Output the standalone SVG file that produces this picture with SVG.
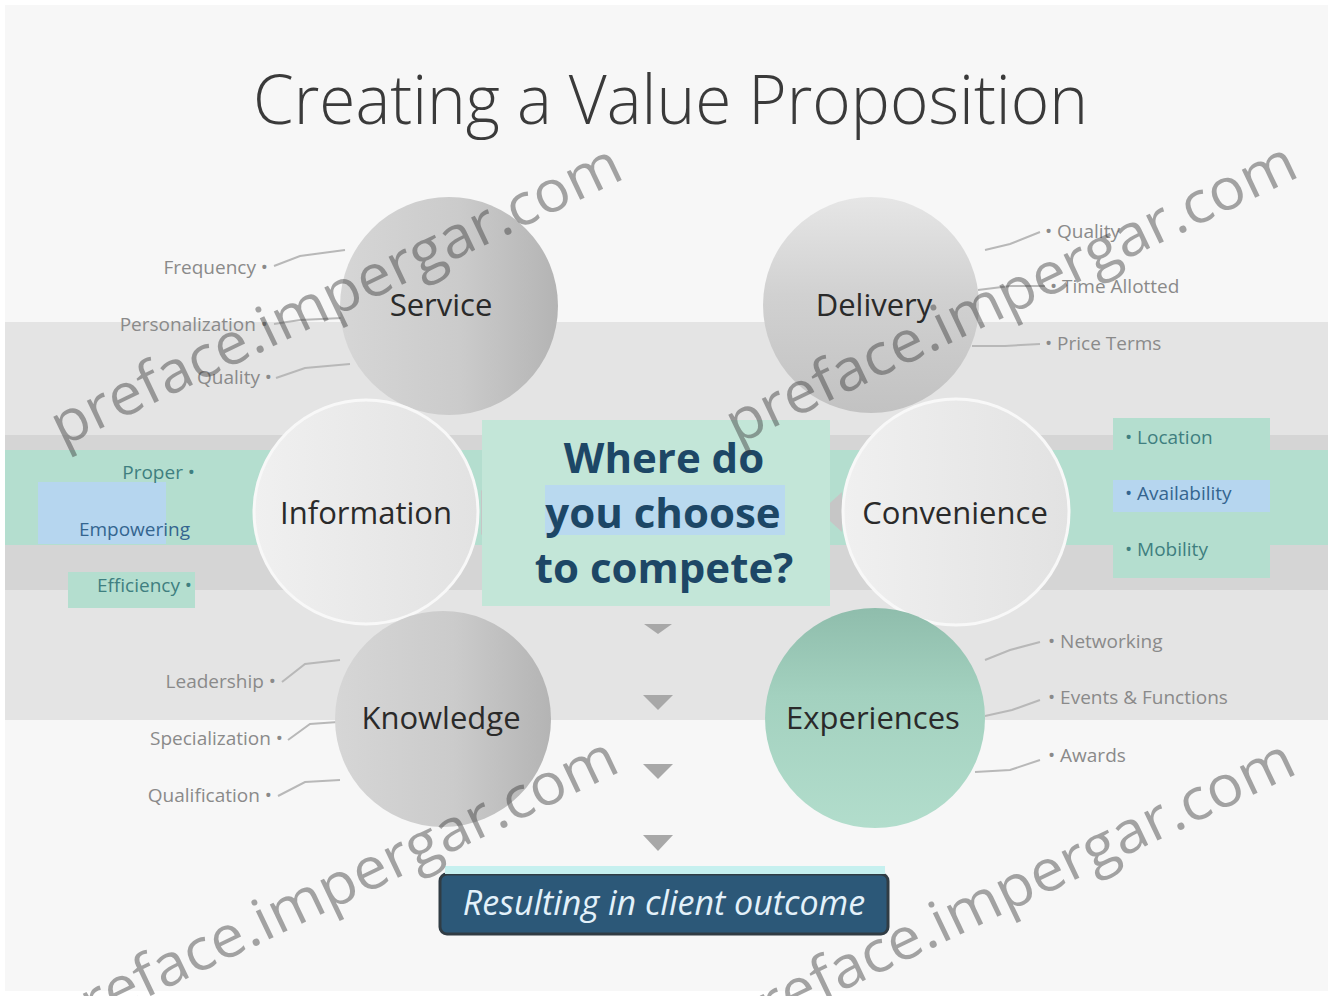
<svg xmlns="http://www.w3.org/2000/svg" width="1333" height="996" viewBox="0 0 1333 996">
<defs>
<style>
.title{font-family:"Open Sans","Liberation Sans",sans-serif;font-weight:300;font-size:68px;fill:#3a3a3a}
.node{font-family:"Open Sans","Liberation Sans",sans-serif;font-size:31px;fill:#2a2a2a;text-anchor:middle}
.lbl{font-family:"Open Sans","Liberation Sans",sans-serif;font-size:19px;fill:#8a8a8a}
.lblc{font-family:"Open Sans","Liberation Sans",sans-serif;font-size:19px;fill:#3f7f80}
.lblb{font-family:"Open Sans","Liberation Sans",sans-serif;font-size:19px;fill:#34658f}
.q{font-family:"Open Sans","Liberation Sans",sans-serif;font-weight:700;font-size:42px;fill:#1d4766;text-anchor:middle}
.out{font-family:"Open Sans","Liberation Sans",sans-serif;font-style:italic;font-size:34px;fill:#e3f1fa;text-anchor:middle}
.wm{font-family:"Open Sans","Liberation Sans",sans-serif;font-size:58px;fill:#3c3c3c;opacity:0.45}
.con{stroke:#b8b8b8;stroke-width:2;fill:none}
.chev{fill:#a8a8a8}
</style>
<linearGradient id="gSvc" x1="0" y1="0" x2="1" y2="0"><stop offset="0" stop-color="#d6d6d6"/><stop offset="0.55" stop-color="#cbcbcb"/><stop offset="1" stop-color="#b4b4b4"/></linearGradient>
<linearGradient id="gDel" x1="0" y1="0" x2="0" y2="1"><stop offset="0" stop-color="#e6e6e6"/><stop offset="0.45" stop-color="#d1d1d1"/><stop offset="1" stop-color="#c2c2c2"/></linearGradient>
<linearGradient id="gInf" x1="0" y1="0" x2="1" y2="0"><stop offset="0" stop-color="#f0f0f0"/><stop offset="1" stop-color="#e2e2e2"/></linearGradient>
<linearGradient id="gExp" x1="0" y1="0" x2="0" y2="1"><stop offset="0" stop-color="#8fbdac"/><stop offset="0.4" stop-color="#a3d1bf"/><stop offset="1" stop-color="#b2ddcc"/></linearGradient>
</defs>

<rect x="0" y="0" width="1333" height="996" fill="#ffffff"/>
<rect x="5" y="5" width="1323" height="986" fill="#f7f7f7"/>

<!-- bands -->
<rect x="5" y="322" width="1323" height="398" fill="#e4e4e4"/>
<rect x="5" y="435" width="1323" height="155" fill="#d5d5d5"/>
<rect x="5" y="450" width="1323" height="95" fill="#b4decf"/>
<rect x="38" y="482" width="128" height="62" fill="#b6d6ef"/>
<rect x="68" y="572" width="127" height="36" fill="#b4decf"/>
<rect x="1113" y="418" width="157" height="160" fill="#b4decf"/>
<rect x="1113" y="480" width="157" height="32" fill="#b6d6ef"/>

<!-- title -->
<text class="title" x="253" y="124" textLength="835" lengthAdjust="spacingAndGlyphs">Creating a Value Proposition</text>

<!-- connectors -->
<g id="connectors">
<polyline class="con" points="274,266 300,256 345,250"/>
<polyline class="con" points="274,324 300,320 342,318"/>
<polyline class="con" points="276,378 305,368 350,364"/>
<polyline class="con" points="282,682 305,664 340,660"/>
<polyline class="con" points="288,740 310,724 338,722"/>
<polyline class="con" points="278,796 305,782 340,780"/>
<polyline class="con" points="985,250 1010,244 1040,232"/>
<polyline class="con" points="978,290 1010,286 1045,286"/>
<polyline class="con" points="972,346 1005,346 1040,344"/>
<polyline class="con" points="985,660 1010,650 1040,642"/>
<polyline class="con" points="985,716 1012,710 1040,700"/>
<polyline class="con" points="975,772 1010,770 1040,760"/>
<polygon fill="#c6c6c6" points="481,490 507,512 481,535"/>
<polygon fill="#c6c6c6" points="842,492 820,512 842,532"/>
<polygon class="chev" points="644,624 672,624 658,634"/>
<polygon class="chev" points="643,695 673,695 658,710"/>
<polygon class="chev" points="643,764 673,764 658,779"/>
<polygon class="chev" points="643,835 673,835 658,851"/>
</g>

<!-- nodes -->
<g id="service"><circle cx="449" cy="306" r="109" fill="url(#gSvc)"/><text class="node" x="441" y="316">Service</text></g>
<g id="delivery"><circle cx="871" cy="305" r="108" fill="url(#gDel)"/><text class="node" x="874" y="316">Delivery</text></g>
<g id="information"><circle cx="366" cy="512" r="112" fill="url(#gInf)" stroke="#f8f8f8" stroke-width="3"/><text class="node" x="366" y="524">Information</text></g>
<g id="convenience"><circle cx="956" cy="512" r="113" fill="url(#gInf)" stroke="#f8f8f8" stroke-width="3"/><text class="node" x="955" y="524">Convenience</text></g>
<g id="knowledge"><circle cx="443" cy="719" r="108" fill="url(#gSvc)"/><text class="node" x="441" y="729">Knowledge</text></g>
<g id="experiences"><circle cx="875" cy="718" r="110" fill="url(#gExp)"/><text class="node" x="873" y="729">Experiences</text></g>

<g id="center">
<rect x="482" y="420" width="348" height="186" fill="#c3e6d8"/>
<rect x="545" y="485" width="240" height="50" fill="#b9d9ef"/>
<text class="q" x="664" y="473">Where do</text>
<text class="q" x="663" y="528">you choose</text>
<text class="q" x="664" y="583">to compete?</text>
</g>

<g id="outcome">
<rect x="440" y="874" width="448" height="60" rx="7" fill="#2c5878" stroke="#303c44" stroke-width="3"/>
<rect x="445" y="866" width="440" height="8" fill="#c6f0ef"/>
<text class="out" x="664" y="915">Resulting in client outcome</text>
</g>

<!-- labels -->
<g id="labels-left">
<text class="lbl" x="268" y="274" text-anchor="end">Frequency •</text>
<text class="lbl" x="268" y="331" text-anchor="end">Personalization •</text>
<text class="lbl" x="272" y="384" text-anchor="end">Quality •</text>
<text class="lblc" x="195" y="479" text-anchor="end">Proper •</text>
<text class="lblb" x="190" y="536" text-anchor="end">Empowering</text>
<text class="lblc" x="192" y="592" text-anchor="end">Efficiency •</text>
<text class="lbl" x="276" y="688" text-anchor="end">Leadership •</text>
<text class="lbl" x="283" y="745" text-anchor="end">Specialization •</text>
<text class="lbl" x="272" y="802" text-anchor="end">Qualification •</text>
</g>
<g id="labels-right">
<text class="lbl" x="1045" y="238">• Quality</text>
<text class="lbl" x="1050" y="293">• Time Allotted</text>
<text class="lbl" x="1045" y="350">• Price Terms</text>
<text class="lblc" x="1125" y="444">• Location</text>
<text class="lblb" x="1125" y="500">• Availability</text>
<text class="lblc" x="1125" y="556">• Mobility</text>
<text class="lbl" x="1048" y="648">• Networking</text>
<text class="lbl" x="1048" y="704">• Events &amp; Functions</text>
<text class="lbl" x="1048" y="762">• Awards</text>
</g>

<!-- watermarks (on top) -->
<g id="watermarks">
<text class="wm" x="62" y="447" transform="rotate(-25.5 62 447)" textLength="625" lengthAdjust="spacingAndGlyphs">preface.impergar.com</text>
<text class="wm" x="737" y="445" transform="rotate(-25.5 737 445)" textLength="625" lengthAdjust="spacingAndGlyphs">preface.impergar.com</text>
<text class="wm" x="58" y="1040" transform="rotate(-25.5 58 1040)" textLength="625" lengthAdjust="spacingAndGlyphs">preface.impergar.com</text>
<text class="wm" x="735" y="1042" transform="rotate(-25.5 735 1042)" textLength="625" lengthAdjust="spacingAndGlyphs">preface.impergar.com</text>
</g>
</svg>
